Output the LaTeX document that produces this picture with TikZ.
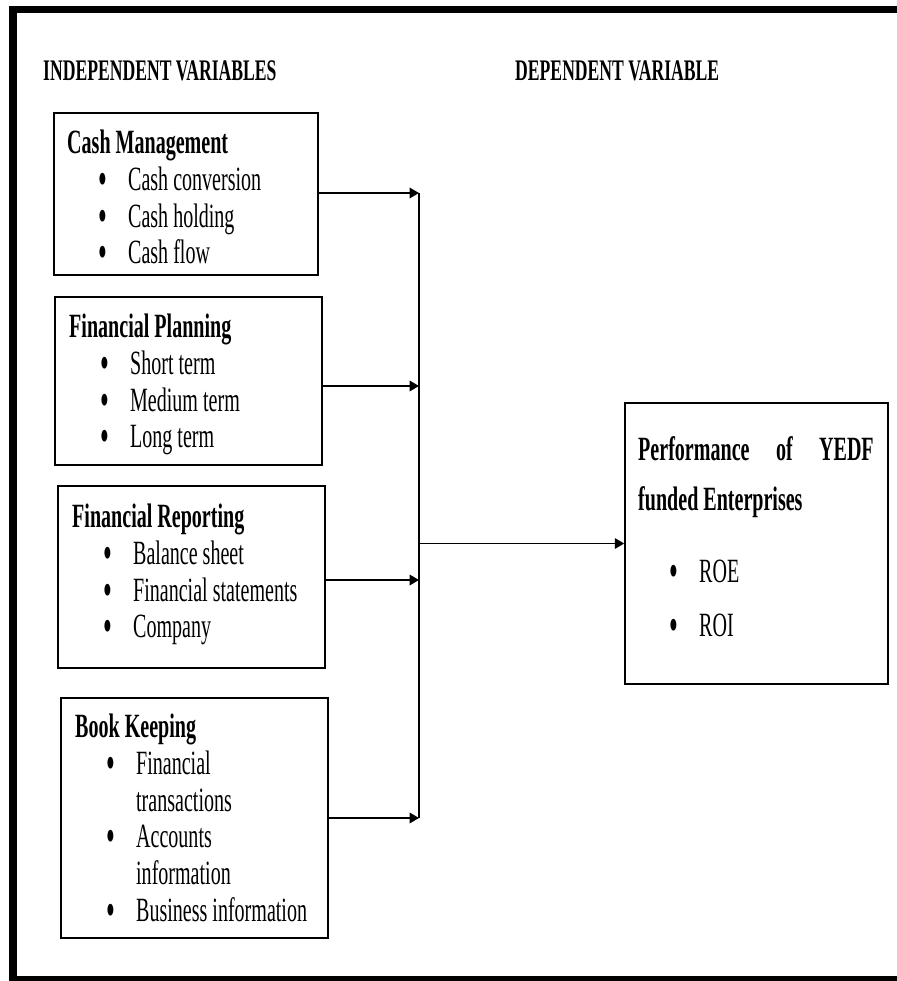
\documentclass[tikz,border=0pt]{standalone}
\usepackage{graphicx}
\usepackage{fontspec}
\setmainfont{Liberation Serif}
\newfontfamily\narrowserif[FakeStretch=0.59]{Liberation Serif}
\usetikzlibrary{arrows.meta,positioning,calc,fit}
\newcommand{\bul}{\hspace*{27pt}\makebox[25pt][l]{\raisebox{-4.3pt}[0pt][0pt]{\scalebox{1.25}[1.45]{\textbullet}}}}
\newcommand{\cont}{\hspace*{52pt}}

\begin{document}
\begin{tikzpicture}[
    x=0.03cm, y=-0.03cm,
    every node/.style={inner sep=0pt},
    varbox/.style={draw, line width=1.4pt},
    txt/.style={anchor=north west, align=left, font=\narrowserif\fontsize{29}{31.3}\selectfont},
    head/.style={anchor=west, font=\narrowserif\bfseries\fontsize{25.5}{28}\selectfont},
    arrow/.style={-{Triangle[length=8pt, width=9pt]}, line width=1.4pt}
]
    \useasboundingbox (0,0) rectangle (896,981);
    \draw[line width=6.8pt] (13,9.5) rectangle (910,980);

    \node[head] (indep) at (43,71) {INDEPENDENT VARIABLES};
    \node[head] (dep) at (515,71) {DEPENDENT VARIABLE};

    % independent variables
    \node[varbox, fit={(54,113) (318,275)}] (cash) {};
    \node[txt] (cashtxt) at (67,130) {\textbf{Cash Management}\\
        \bul Cash conversion\\ \bul Cash holding\\ \bul Cash flow};

    \node[varbox, fit={(55,297) (322,465)}] (plan) {};
    \node[txt] (plantxt) at (69,314) {\textbf{Financial Planning}\\
        \bul Short term\\ \bul Medium term\\ \bul Long term};

    \node[varbox, fit={(58,486) (325,668)}] (report) {};
    \node[txt] (reporttxt) at (72,504) {\textbf{Financial Reporting}\\
        \bul Balance sheet\\ \bul Financial statements\\ \bul Company};

    \node[varbox, fit={(61,698) (328,938)}] (book) {};
    \node[txt] (booktxt) at (75,714) {\textbf{Book Keeping}\\
        \bul Financial\\ \cont transactions\\ \bul Accounts\\ \cont information\\ \bul Business information};

    % dependent variable
    \node[varbox, fit={(625,403) (888,684)}] (perf) {};
    \node[txt] (perftxt) at (638,436) {\textbf{\makebox[201pt][s]{Performance of YEDF}}\\[12pt]
        \textbf{funded Enterprises}\\[30pt] \bul ROE\\[15pt] \bul ROI};

    % connectors
    \coordinate (bustop) at (419,193);
    \coordinate (bus2) at (419,386);
    \coordinate (bus3) at (419,580);
    \coordinate (busbot) at (419,818);

    \draw[line width=1.4pt] (bustop) -- (busbot);
    \draw[arrow] (cash.east |- bustop) -- (bustop);
    \draw[arrow] (plan.east |- bus2) -- (bus2);
    \draw[arrow] (report.east |- bus3) -- (bus3);
    \draw[arrow] (book.east |- busbot) -- (busbot);
    \draw[arrow] (bustop |- perf.west) -- (perf.west);
\end{tikzpicture}
\end{document}
